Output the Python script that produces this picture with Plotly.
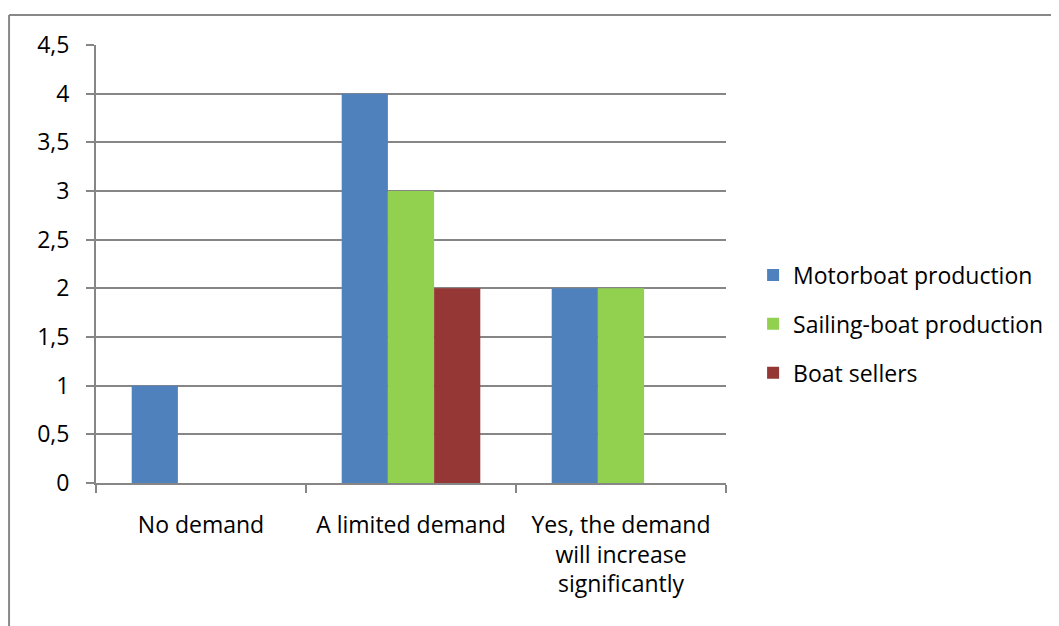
import plotly.graph_objects as go

categories = ["No demand", "A limited demand", "Yes, the demand<br>will increase<br>significantly"]
motorboat = [1, 4, 2]
sailing = [0, 3, 2]
sellers = [0, 2, 0]
series_names = ["Motorboat production", "Sailing-boat production", "Boat sellers"]
colors = ["#4F81BD", "#92D050", "#953735"]
yticks = [0, 0.5, 1, 1.5, 2, 2.5, 3, 3.5, 4, 4.5]

fig = go.Figure()
for i, (name, vals, col) in enumerate(zip(series_names, [motorboat, sailing, sellers], colors)):
    fig.add_trace(go.Bar(x=categories, y=vals, name=name, legendgroup=f"g{i}",
                         marker=dict(color=col, line=dict(width=0))))

FONT = "Open Sans"
fig.update_layout(
    width=1059, height=626,
    margin=dict(l=88, r=341, t=37, b=151),
    paper_bgcolor="white", plot_bgcolor="white",
    barmode="group", bargap=0.34, bargroupgap=0,
    separators=", ",
    font=dict(family=FONT, size=23, color="#000000"),
    legend=dict(x=1.043, y=0.363, yanchor="middle", xanchor="left",
                font=dict(size=23), tracegroupgap=16, traceorder="grouped",
                bgcolor="rgba(0,0,0,0)"),
    showlegend=True,
)
fig.update_xaxes(showline=True, linecolor="#868686", linewidth=2,
                 ticks="outside", tickson="boundaries", ticklen=8, tickcolor="#868686", tickwidth=2,
                 showgrid=False, ticklabelstandoff=20)
fig.update_yaxes(range=[0, 4.5], tickvals=yticks, tickformat=".1~f",
                 showline=True, linecolor="#868686", linewidth=2,
                 ticks="outside", ticklen=8, tickcolor="#868686", tickwidth=2,
                 showgrid=True, gridcolor="#868686", gridwidth=1.5, zeroline=False,
                 ticklabelstandoff=12)

# chart border (left and top edges visible)
fig.add_shape(type="line", xref="paper", yref="paper", x0=-0.138, x1=-0.138, y0=1.0685, y1=-0.5,
              line=dict(color="#888888", width=2))
fig.add_shape(type="line", xref="paper", yref="paper", x0=-0.138, x1=1.6, y0=1.0685, y1=1.0685,
              line=dict(color="#888888", width=2))

fig.write_html("out.html")
